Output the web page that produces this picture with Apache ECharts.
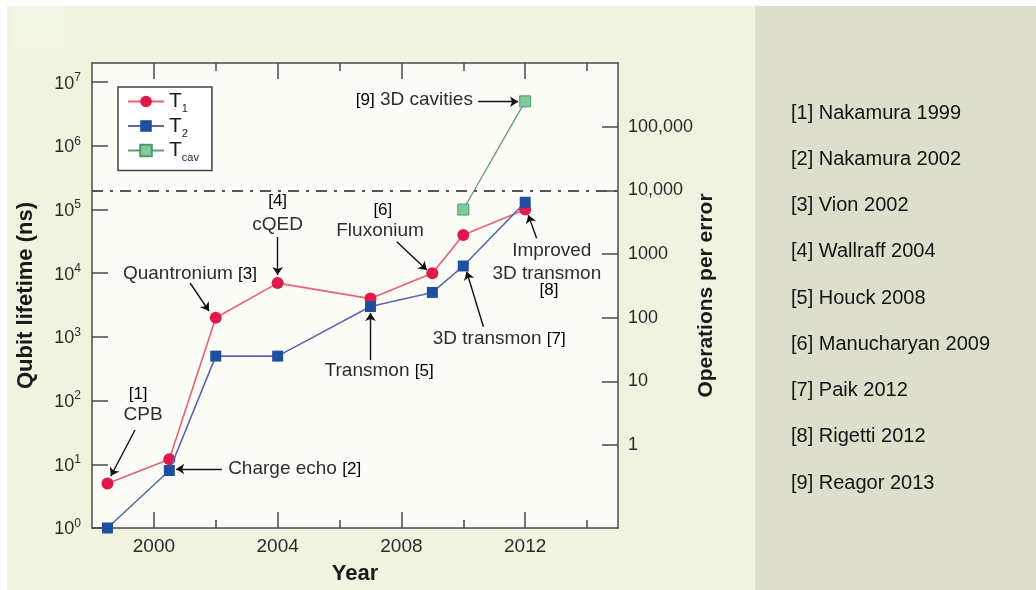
<!DOCTYPE html>
<html>
<head>
<meta charset="utf-8">
<script src="https://cdn.jsdelivr.net/npm/echarts@6/dist/echarts.min.js"></script>
<style>
  html, body { margin: 0; padding: 0; background: #ffffff; }
  #chart { width: 1036px; height: 590px; }
</style>
</head>
<body>
<div id="chart"></div>
<script>
const FONT = '"Liberation Sans", Arial, Helvetica, sans-serif';

// Coherence milestones: year and lifetime in nanoseconds
const yearsT1 = [1998.5, 2000.5, 2002, 2004, 2007, 2009, 2010, 2012];
const valuesT1 = [5, 12, 2000, 7000, 4000, 10000, 40000, 100000];
const yearsT2 = [1998.5, 2000.5, 2002, 2004, 2007, 2009, 2010, 2012];
const valuesT2 = [1, 8, 500, 500, 3000, 5000, 13000, 130000];
const yearsCav = [2010, 2012];
const valuesCav = [100000, 5000000];

const seriesNames = ['T1', 'T2', 'Tcav'];
const legendSubscripts = ['1', '2', 'cav'];
const yearMajorTicks = [2000, 2004, 2008, 2012];
const yearMinorTicks = [2002, 2006, 2010, 2014];
const opsTicks = [1, 10, 100, 1000, 10000, 100000];
const opsThreshold = 10000;     // operations per error
const nsPerOperation = 20;      // gate time used for the right-hand scale

const references = [
  '[1] Nakamura 1999',
  '[2] Nakamura 2002',
  '[3] Vion 2002',
  '[4] Wallraff 2004',
  '[5] Houck 2008',
  '[6] Manucharyan 2009',
  '[7] Paik 2012',
  '[8] Rigetti 2012',
  '[9] Reagor 2013'
];

// Callouts placed in data space: [year, lifetime ns]
const notes = [
  { text: '{r|[1]}', at: [1999.49, 127], align: 'center' },
  { text: '{t|CPB}', at: [1999.65, 59.5], align: 'center' },
  { text: '{t|Charge echo} {r|[2]}', at: [2002.40, 8.44], align: 'left' },
  { text: '{t|Quantronium} {r|[3]}', at: [1999.00, 9730], align: 'left' },
  { text: '{r|[4]}', at: [2004.0, 132900], align: 'center' },
  { text: '{t|cQED}', at: [2004.0, 57200], align: 'center' },
  { text: '{t|Transmon} {r|[5]}', at: [2007.28, 292], align: 'center' },
  { text: '{r|[6]}', at: [2007.40, 95900], align: 'center' },
  { text: '{t|Fluxonium}', at: [2007.31, 46600], align: 'center' },
  { text: '{t|3D transmon} {r|[7]}', at: [2011.16, 928], align: 'center' },
  { text: '{t|Improved}', at: [2012.86, 22340], align: 'center' },
  { text: '{t|3D transmon}', at: [2012.70, 9730], align: 'center' },
  { text: '{r|[8]}', at: [2012.77, 5455], align: 'center' },
  { text: '{r|[9]} {t|3D cavities}', at: [2010.31, 5.25e6], align: 'right' }
];

const arrows = [
  [[1999.39, 34.6], [1998.61, 6.55]],
  [[2002.20, 8.44], [2000.72, 8.44]],
  [[2001.17, 7030], [2001.78, 2555]],
  [[2004.0, 37100], [2004.0, 9380]],
  [[2007.0, 434], [2007.0, 2376]],
  [[2007.85, 31300], [2008.82, 11240]],
  [[2010.65, 1449], [2010.11, 10570]],
  [[2012.37, 35400], [2012.10, 82100]],
  [[2010.48, 4.93e6], [2011.77, 4.93e6]]
];

const zip = (xs, ys) => xs.map((x, i) => [x, ys[i]]);

// Plot frame and lifetime range
const PLOT = { left: 92, top: 63, width: 526, height: 465 };
const LIFE_MIN = 1, LIFE_MAX = 2e7;
const YEAR_MIN = 1998, YEAR_MAX = 2015;

// Right-hand "operations per error" scale shares the same pixel mapping (ops = ns / nsPerOperation)
const decades = Math.log10(LIFE_MAX / LIFE_MIN);
const pxOfNs = v => PLOT.top + PLOT.height * (Math.log10(LIFE_MAX) - Math.log10(v)) / decades;
const opsMin = opsTicks[0], opsMax = opsTicks[opsTicks.length - 1];
const opsTop = pxOfNs(opsMax * nsPerOperation);
const opsBottom = pxOfNs(opsMin * nsPerOperation);

const AXIS_COLOR = '#4a4a4a';
const LABEL_COLOR = '#2b2b2b';
const axisLine = { show: true, onZero: false, lineStyle: { color: AXIS_COLOR, width: 1.5 } };
const tick = (len, values) => ({
  show: true, inside: true, length: len, customValues: values,
  lineStyle: { color: AXIS_COLOR, width: 1.5 }
});

function yearAxis(position, values, len, withLabels) {
  return {
    type: 'value', gridIndex: 0, position: position, min: YEAR_MIN, max: YEAR_MAX,
    axisLine: withLabels !== null ? axisLine : { show: false },
    axisTick: tick(len, values),
    axisLabel: withLabels ? {
      show: true, customValues: values, margin: 9, fontSize: 19, color: LABEL_COLOR,
      fontFamily: FONT, formatter: v => String(v)
    } : { show: false },
    splitLine: { show: false }
  };
}

const xAxes = [
  Object.assign(yearAxis('bottom', yearMajorTicks, 16, true), {
    name: 'Year', nameLocation: 'middle', nameGap: 35,
    nameTextStyle: { fontSize: 22, fontWeight: 'bold', color: '#1a1a1a', fontFamily: FONT }
  }),
  yearAxis('bottom', yearMinorTicks, 8, null),
  yearAxis('top', yearMajorTicks, 16, false),
  yearAxis('top', yearMinorTicks, 8, null),
  { type: 'value', gridIndex: 1, min: YEAR_MIN, max: YEAR_MAX, show: false }
];

const powerLabel = v => {
  const e = Math.log10(v);
  const n = Math.round(e);
  if (Math.abs(e - n) > 1e-6) return '';
  return '{b|10}{e|' + n + '}';
};

const yAxes = [
  {
    type: 'log', logBase: 10, gridIndex: 0, position: 'left', min: LIFE_MIN, max: LIFE_MAX,
    axisLine: axisLine,
    axisTick: { show: true, inside: true, length: 16, lineStyle: { color: AXIS_COLOR, width: 1.5 } },
    axisLabel: {
      show: true, margin: 11, formatter: powerLabel, showMaxLabel: false,
      rich: {
        b: { fontSize: 18, color: LABEL_COLOR, fontFamily: FONT, lineHeight: 21, verticalAlign: 'bottom' },
        e: { fontSize: 12, color: LABEL_COLOR, fontFamily: FONT, lineHeight: 12, verticalAlign: 'top' }
      }
    },
    splitLine: { show: false },
    name: 'Qubit lifetime (ns)', nameLocation: 'middle', nameGap: 55,
    nameTextStyle: { fontSize: 22, fontWeight: 'bold', color: '#1a1a1a', fontFamily: FONT }
  },
  {
    type: 'log', logBase: 10, gridIndex: 0, position: 'right', min: LIFE_MIN, max: LIFE_MAX,
    axisLine: axisLine, axisTick: { show: false }, axisLabel: { show: false },
    splitLine: { show: false },
    name: 'Operations per error', nameLocation: 'middle', nameGap: 78,
    nameTextStyle: { fontSize: 21, fontWeight: 'bold', color: '#1a1a1a', fontFamily: FONT }
  },
  {
    type: 'log', logBase: 10, gridIndex: 1, position: 'right', min: opsMin, max: opsMax,
    axisLine: { show: false },
    axisTick: { show: true, inside: true, length: 16, lineStyle: { color: AXIS_COLOR, width: 1.5 } },
    axisLabel: {
      show: true, margin: 10, fontSize: 18, color: LABEL_COLOR, fontFamily: FONT,
      formatter: v => {
        const n = Math.round(v);
        return n >= 10000 ? n.toLocaleString('en-US') : String(n);
      }
    },
    splitLine: { show: false }
  }
];

const labelRich = {
  t: { fontSize: 19, color: '#2e2e2e', fontFamily: FONT },
  r: { fontSize: 17, color: '#000000', fontFamily: FONT }
};

const option = {
  animation: false,
  textStyle: { fontFamily: FONT },
  graphic: [
    { type: 'rect', silent: true, z: -10, shape: { x: 7, y: 6, width: 748, height: 584 }, style: { fill: '#eff3df' } },
    { type: 'rect', silent: true, z: -9, shape: { x: 13, y: 7, width: 51, height: 40 }, style: { fill: '#f1f5e3' } },
    { type: 'rect', silent: true, z: -10, shape: { x: 755, y: 6, width: 281, height: 584 }, style: { fill: '#dddfcc' } }
  ].concat(references.map((r, i) => ({
    type: 'text', silent: true, z: 10, x: 791, y: 113 + i * 46.25,
    style: { text: r, font: '20px ' + FONT, fill: '#141414', verticalAlign: 'middle', align: 'left' }
  }))),
  grid: [
    { left: PLOT.left, top: PLOT.top, width: PLOT.width, height: PLOT.height,
      show: true, backgroundColor: '#fdfdf8', borderWidth: 0, containLabel: false },
    { left: PLOT.left, top: opsTop, width: PLOT.width, height: opsBottom - opsTop,
      show: false, containLabel: false }
  ],
  legend: {
    data: seriesNames, orient: 'vertical', left: 118, top: 87,
    itemWidth: 36, itemHeight: 14.5, itemGap: 1, selectedMode: false,
    padding: [4, 13, 7, 9],
    backgroundColor: '#ffffff', borderColor: '#444', borderWidth: 1.5,
    formatter: name => '{t|T}{s|' + legendSubscripts[seriesNames.indexOf(name)] + '}',
    textStyle: {
      rich: {
        t: { fontSize: 21, color: '#1e1e1e', fontFamily: FONT, lineHeight: 26 },
        s: { fontSize: 11, color: '#1e1e1e', fontFamily: FONT, lineHeight: 14, verticalAlign: 'bottom' }
      }
    }
  },
  xAxis: xAxes,
  yAxis: yAxes,
  series: [
    {
      name: 'T1', type: 'line', xAxisIndex: 0, yAxisIndex: 0, clip: false, z: 3,
      data: zip(yearsT1, valuesT1),
      symbol: 'circle', symbolSize: 12,
      lineStyle: { color: '#e9616d', width: 1.6 },
      itemStyle: { color: '#e0184c' },
      markLine: {
        silent: true, symbol: ['none', 'none'], label: { show: false },
        lineStyle: { type: [11, 7, 3, 7], color: '#555', width: 2 },
        data: [{ yAxis: opsThreshold * nsPerOperation }]
      }
    },
    {
      name: 'T2', type: 'line', xAxisIndex: 0, yAxisIndex: 0, clip: false, z: 4,
      data: zip(yearsT2, valuesT2),
      symbol: 'rect', symbolSize: 11,
      lineStyle: { color: '#5a66ad', width: 1.6 },
      itemStyle: { color: '#1f4f9f' }
    },
    {
      name: 'Tcav', type: 'line', xAxisIndex: 0, yAxisIndex: 0, clip: false, z: 4,
      data: zip(yearsCav, valuesCav),
      symbol: 'rect', symbolSize: 11,
      lineStyle: { color: '#5d9c7d', width: 1.3 },
      itemStyle: { color: '#80cb98', borderColor: '#4f9a6c', borderWidth: 1 }
    },
    {
      type: 'lines', coordinateSystem: 'cartesian2d', xAxisIndex: 0, yAxisIndex: 0,
      silent: true, z: 5, symbol: ['none', 'arrow'], symbolSize: 8,
      lineStyle: { color: '#111', width: 1.4, opacity: 1, curveness: 0 },
      data: arrows.map(a => ({ coords: a }))
    },
    {
      type: 'scatter', xAxisIndex: 0, yAxisIndex: 0, silent: true, clip: false, z: 6,
      symbolSize: 0, itemStyle: { color: 'transparent', opacity: 1 },
      data: notes.map(n => ({
        value: n.at,
        label: {
          show: true, position: 'inside', align: n.align, verticalAlign: 'middle',
          fontSize: 19, color: '#2e2e2e', formatter: n.text, rich: labelRich
        }
      }))
    }
  ]
};

const chart = echarts.init(document.getElementById('chart'), null, { renderer: 'canvas' });
chart.setOption(option);
</script>
</body>
</html>
